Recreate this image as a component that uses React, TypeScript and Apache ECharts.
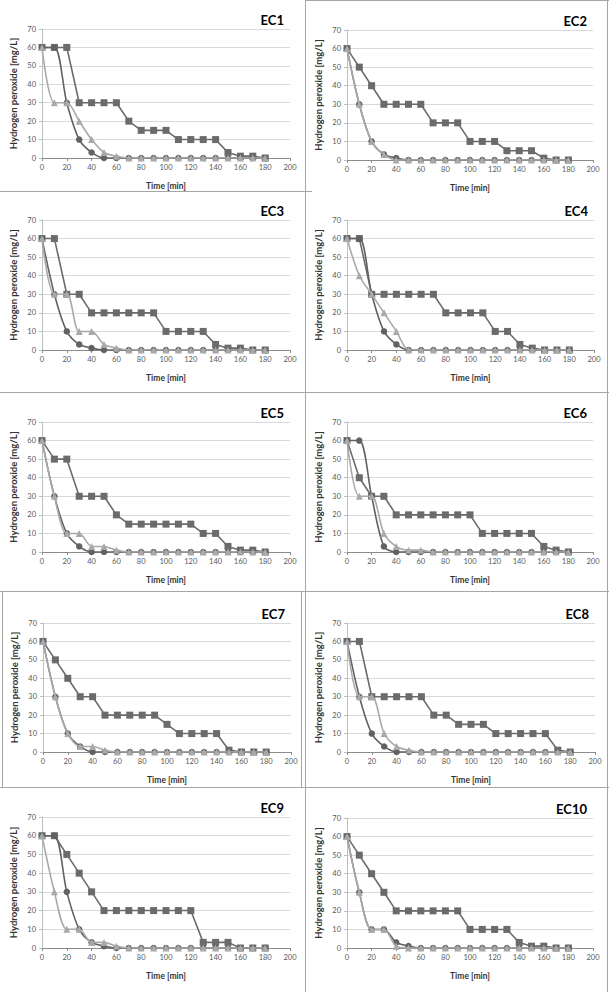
import React, { useEffect, useRef } from "react";
import * as echarts from "echarts";

const TIME = [0, 10, 20, 30, 40, 50, 60, 70, 80, 90, 100, 110, 120, 130, 140, 150, 160, 170, 180];
const PANEL_NAMES = ["EC1", "EC2", "EC3", "EC4", "EC5", "EC6", "EC7", "EC8", "EC9", "EC10"];
const X_TITLE = "Time [min]";
const Y_TITLE = "Hydrogen peroxide [mg/L]";

const EC1_SQUARE = [60, 60, 60, 30, 30, 30, 30, 20, 15, 15, 15, 10, 10, 10, 10, 3, 1, 1, 0];
const EC1_CIRCLE = [60, 60, 30, 10, 3, 0, 0, 0, 0, 0, 0, 0, 0, 0, 0, 0, 0, 0, 0];
const EC1_TRIANGLE = [60, 30, 30, 20, 10, 3, 1, 0, 0, 0, 0, 0, 0, 0, 0, 0, 0, 0, 0];

const EC2_SQUARE = [60, 50, 40, 30, 30, 30, 30, 20, 20, 20, 10, 10, 10, 5, 5, 5, 1, 0, 0];
const EC2_CIRCLE = [60, 30, 10, 3, 1, 0, 0, 0, 0, 0, 0, 0, 0, 0, 0, 0, 0, 0, 0];
const EC2_TRIANGLE = [60, 30, 10, 3, 0, 0, 0, 0, 0, 0, 0, 0, 0, 0, 0, 0, 0, 0, 0];

const EC3_SQUARE = [60, 60, 30, 30, 20, 20, 20, 20, 20, 20, 10, 10, 10, 10, 3, 1, 1, 0, 0];
const EC3_CIRCLE = [60, 30, 10, 3, 1, 0, 0, 0, 0, 0, 0, 0, 0, 0, 0, 0, 0, 0, 0];
const EC3_TRIANGLE = [60, 30, 30, 10, 10, 3, 1, 0, 0, 0, 0, 0, 0, 0, 0, 0, 0, 0, 0];

const EC4_SQUARE = [60, 60, 30, 30, 30, 30, 30, 30, 20, 20, 20, 20, 10, 10, 3, 1, 0, 0, 0];
const EC4_CIRCLE = [60, 60, 30, 10, 3, 0, 0, 0, 0, 0, 0, 0, 0, 0, 0, 0, 0, 0, 0];
const EC4_TRIANGLE = [60, 40, 30, 20, 10, 0, 0, 0, 0, 0, 0, 0, 0, 0, 0, 0, 0, 0, 0];

const EC5_SQUARE = [60, 50, 50, 30, 30, 30, 20, 15, 15, 15, 15, 15, 15, 10, 10, 3, 1, 1, 0];
const EC5_CIRCLE = [60, 30, 10, 3, 0, 0, 0, 0, 0, 0, 0, 0, 0, 0, 0, 0, 0, 0, 0];
const EC5_TRIANGLE = [60, 30, 10, 10, 3, 3, 1, 0, 0, 0, 0, 0, 0, 0, 0, 0, 0, 0, 0];

const EC6_SQUARE = [60, 40, 30, 30, 20, 20, 20, 20, 20, 20, 20, 10, 10, 10, 10, 10, 3, 1, 0];
const EC6_CIRCLE = [60, 60, 30, 3, 0, 0, 0, 0, 0, 0, 0, 0, 0, 0, 0, 0, 0, 0, 0];
const EC6_TRIANGLE = [60, 30, 30, 10, 3, 1, 1, 0, 0, 0, 0, 0, 0, 0, 0, 0, 0, 0, 0];

const EC7_SQUARE = [60, 50, 40, 30, 30, 20, 20, 20, 20, 20, 15, 10, 10, 10, 10, 1, 0, 0, 0];
const EC7_CIRCLE = [60, 30, 10, 3, 0, 0, 0, 0, 0, 0, 0, 0, 0, 0, 0, 0, 0, 0, 0];
const EC7_TRIANGLE = [60, 30, 10, 3, 3, 1, 0, 0, 0, 0, 0, 0, 0, 0, 0, 0, 0, 0, 0];

const EC8_SQUARE = [60, 60, 30, 30, 30, 30, 30, 20, 20, 15, 15, 15, 10, 10, 10, 10, 10, 1, 0];
const EC8_CIRCLE = [60, 30, 10, 3, 0, 0, 0, 0, 0, 0, 0, 0, 0, 0, 0, 0, 0, 0, 0];
const EC8_TRIANGLE = [60, 30, 30, 10, 3, 1, 0, 0, 0, 0, 0, 0, 0, 0, 0, 0, 0, 0, 0];

const EC9_SQUARE = [60, 60, 50, 40, 30, 20, 20, 20, 20, 20, 20, 20, 20, 3, 3, 3, 0, 0, 0];
const EC9_CIRCLE = [60, 60, 30, 10, 3, 1, 0, 0, 0, 0, 0, 0, 0, 0, 0, 0, 0, 0, 0];
const EC9_TRIANGLE = [60, 30, 10, 10, 3, 3, 1, 0, 0, 0, 0, 0, 0, 0, 0, 0, 0, 0, 0];

const EC10_SQUARE = [60, 50, 40, 30, 20, 20, 20, 20, 20, 20, 10, 10, 10, 10, 3, 1, 1, 0, 0];
const EC10_CIRCLE = [60, 30, 10, 10, 3, 1, 0, 0, 0, 0, 0, 0, 0, 0, 0, 0, 0, 0, 0];
const EC10_TRIANGLE = [60, 30, 10, 10, 1, 0, 0, 0, 0, 0, 0, 0, 0, 0, 0, 0, 0, 0, 0];

const SQUARES = [EC1_SQUARE, EC2_SQUARE, EC3_SQUARE, EC4_SQUARE, EC5_SQUARE, EC6_SQUARE, EC7_SQUARE, EC8_SQUARE, EC9_SQUARE, EC10_SQUARE];
const CIRCLES = [EC1_CIRCLE, EC2_CIRCLE, EC3_CIRCLE, EC4_CIRCLE, EC5_CIRCLE, EC6_CIRCLE, EC7_CIRCLE, EC8_CIRCLE, EC9_CIRCLE, EC10_CIRCLE];
const TRIANGLES = [EC1_TRIANGLE, EC2_TRIANGLE, EC3_TRIANGLE, EC4_TRIANGLE, EC5_TRIANGLE, EC6_TRIANGLE, EC7_TRIANGLE, EC8_TRIANGLE, EC9_TRIANGLE, EC10_TRIANGLE];

// plot-area layout (pixels)
const LAYOUT = [
  { left: 42, top: 29, width: 248, height: 129 },
  { left: 347, top: 30, width: 246, height: 130 },
  { left: 42, top: 220, width: 248, height: 130 },
  { left: 347, top: 220, width: 247, height: 130 },
  { left: 42, top: 422, width: 248, height: 130 },
  { left: 347, top: 422, width: 246, height: 130 },
  { left: 43, top: 623, width: 248, height: 129 },
  { left: 347, top: 623, width: 248, height: 129 },
  { left: 42, top: 817, width: 248, height: 131 },
  { left: 347, top: 818, width: 246, height: 130 },
];

const FONT = "Lato, 'Open Sans', sans-serif";
const BORDER = "#a6a6a6";

export default function App() {
  const ref = useRef<HTMLDivElement>(null);
  useEffect(() => {
    if (!ref.current) return;
    const chart = echarts.init(ref.current, undefined, { renderer: "svg" });
    const W = 609;
    const series: any[] = [];
    LAYOUT.forEach((_, i) => {
      const mk = (arr: number[]) => TIME.map((t, j) => [t, arr[j]]);
      series.push({
        type: "line", xAxisIndex: i, yAxisIndex: i, data: mk(SQUARES[i]),
        symbol: "rect", symbolSize: 7, smooth: false,
        lineStyle: { color: "#6b6b6b", width: 1.6 }, itemStyle: { color: "#6b6b6b" }, z: 2,
      });
      series.push({
        type: "line", xAxisIndex: i, yAxisIndex: i, data: mk(CIRCLES[i]),
        symbol: "circle", symbolSize: 6.5, smooth: 0.3,
        lineStyle: { color: "#626262", width: 1.6 }, itemStyle: { color: "#626262" }, z: 3,
      });
      series.push({
        type: "line", xAxisIndex: i, yAxisIndex: i, data: mk(TRIANGLES[i]),
        symbol: "triangle", symbolSize: 7, smooth: 0.3,
        lineStyle: { color: "#a9a9a9", width: 1.6 }, itemStyle: { color: "#a9a9a9" }, z: 4,
      });
    });
    const option: any = {
      animation: false,
      backgroundColor: "#ffffff",
      title: PANEL_NAMES.map((n, i) => ({
        text: n,
        right: W - (LAYOUT[i].left + LAYOUT[i].width - 6),
        top: LAYOUT[i].top - 16,
        padding: 0,
        textStyle: { fontFamily: FONT, fontWeight: "bold", fontSize: 13, color: "#000" },
      })),
      grid: LAYOUT.map((l) => ({ left: l.left, top: l.top, width: l.width, height: l.height })),
      xAxis: LAYOUT.map((_, i) => ({
        type: "value", gridIndex: i, min: 0, max: 200, interval: 20,
        name: X_TITLE, nameLocation: "middle", nameGap: 23,
        nameTextStyle: { fontFamily: FONT, fontWeight: "bold", fontSize: 8.5, color: "#333" },
        axisLine: { show: true, lineStyle: { color: "#8c8c8c", width: 1 } },
        axisTick: { show: true, length: 3, lineStyle: { color: "#8c8c8c" } },
        axisLabel: { fontFamily: FONT, fontSize: 7.5, color: "#595959", margin: 5 },
        splitLine: { show: false },
      })),
      yAxis: LAYOUT.map((_, i) => ({
        type: "value", gridIndex: i, min: 0, max: 70, interval: 10,
        name: Y_TITLE, nameLocation: "middle", nameGap: 24,
        nameTextStyle: { fontFamily: FONT, fontWeight: "bold", fontSize: 9.5, color: "#333" },
        axisLine: { show: true, lineStyle: { color: "#bfbfbf", width: 1 } },
        axisTick: { show: true, length: 3, lineStyle: { color: "#bfbfbf" } },
        axisLabel: { fontFamily: FONT, fontSize: 7.5, color: "#595959", margin: 6 },
        splitLine: { show: true, lineStyle: { color: "#d9d9d9", width: 1 } },
      })),
      graphic: [
        { type: "line", shape: { x1: 305.5, y1: 0, x2: 305.5, y2: 992 }, style: { stroke: BORDER, lineWidth: 1 } },
        { type: "line", shape: { x1: 607.5, y1: 0, x2: 607.5, y2: 992 }, style: { stroke: BORDER, lineWidth: 1 } },
        { type: "line", shape: { x1: 305, y1: 0.5, x2: 609, y2: 0.5 }, style: { stroke: BORDER, lineWidth: 1 } },
        { type: "line", shape: { x1: 0, y1: 191.5, x2: 312, y2: 191.5 }, style: { stroke: BORDER, lineWidth: 1 } },
        { type: "line", shape: { x1: 0, y1: 392.5, x2: 609, y2: 392.5 }, style: { stroke: BORDER, lineWidth: 1 } },
        { type: "line", shape: { x1: 0, y1: 591.5, x2: 609, y2: 591.5 }, style: { stroke: BORDER, lineWidth: 1 } },
        { type: "line", shape: { x1: 0, y1: 787.5, x2: 609, y2: 787.5 }, style: { stroke: BORDER, lineWidth: 1 } },
        { type: "line", shape: { x1: 2.5, y1: 591, x2: 2.5, y2: 788 }, style: { stroke: BORDER, lineWidth: 1 } },
        { type: "line", shape: { x1: 301.5, y1: 591, x2: 301.5, y2: 788 }, style: { stroke: BORDER, lineWidth: 1 } },
      ],
      series,
    };
    chart.setOption(option);
    return () => chart.dispose();
  }, []);
  return (
    <div
      ref={ref}
      style={{ position: "fixed", left: 0, top: 0, width: 609, height: 992, background: "#fff" }}
    />
  );
}
